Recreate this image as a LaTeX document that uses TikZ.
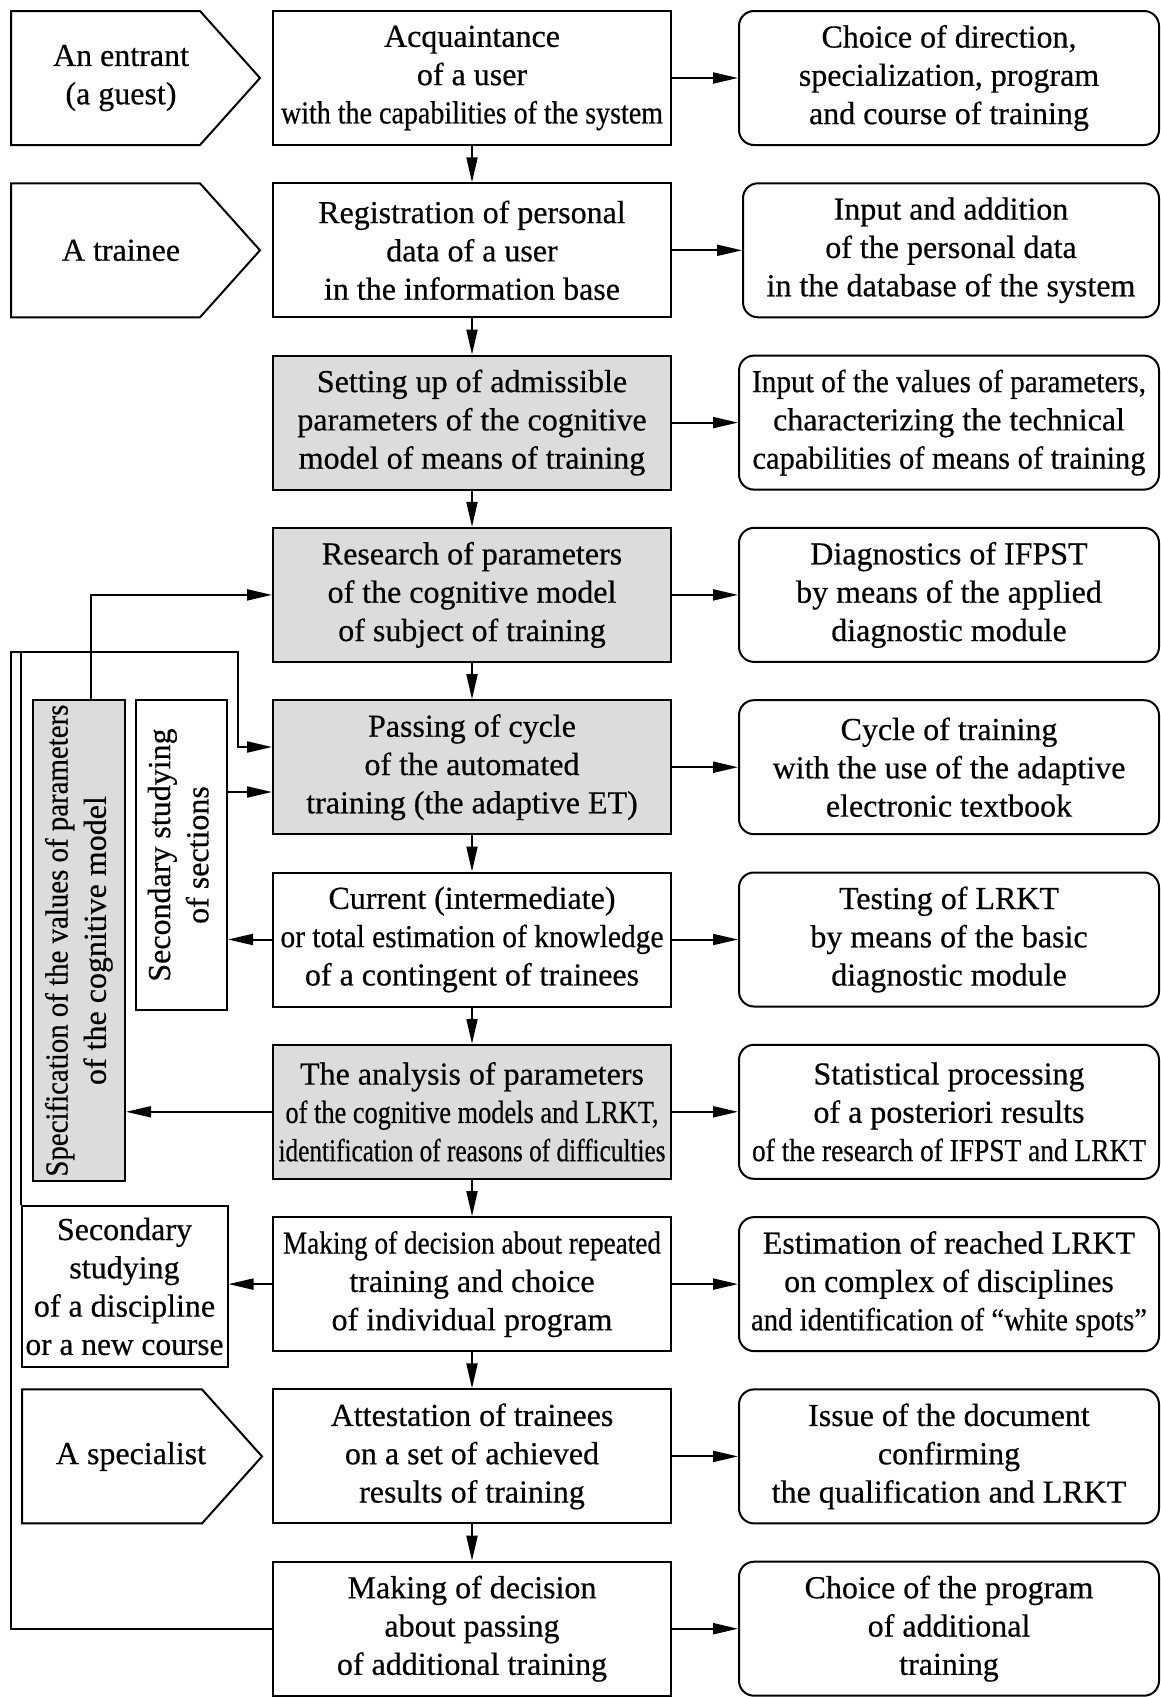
\documentclass[tikz,border=0pt]{standalone}
\usepackage{fontspec}
\usepackage{graphicx}
\setmainfont[FakeBold=0.5]{Liberation Serif}
\usetikzlibrary{arrows.meta}
\definecolor{boxgray}{RGB}{220,220,220}
\newcommand\sq[2]{\resizebox{#1pt}{\height}{#2}}
\tikzset{
  box/.style={draw, line width=2pt, minimum height=134pt, inner sep=0pt, align=center,
              font=\fontsize{32}{38.3}\selectfont},
  mainbox/.style={box, minimum width=398pt},
  graybox/.style={mainbox, fill=boxgray},
  rbox/.style={box, rounded corners=15pt, minimum width=420pt},
  sidebox/.style={box, minimum height=10pt},
  lbl/.style={inner sep=0pt, align=center, font=\fontsize{32}{38.3}\selectfont},
  arr/.style={line width=2pt, -{Triangle[length=25pt,width=11pt]}},
  ln/.style={line width=2pt},
  pent/.style={line width=2pt, line join=miter},
}
\begin{document}
\begin{tikzpicture}[x=1pt,y=-1pt]
\useasboundingbox (0,0) rectangle (1161,1697);

% main column
\node[mainbox]  (m0) at (472,78)     {Acquaintance\\of a user\\\sq{382}{with the capabilities of the system}};
\node[mainbox]  (m1) at (472,250.3)  {Registration of personal\\data of a user\\in the information base};
\node[graybox]  (m2) at (472,422.6)  {Setting up of admissible\\parameters of the cognitive\\model of means of training};
\node[graybox]  (m3) at (472,594.9)  {Research of parameters\\of the cognitive model\\of subject of training};
\node[graybox]  (m4) at (472,767.2)  {Passing of cycle\\of the automated\\training (the adaptive ET)};
\node[mainbox]  (m5) at (472,939.5)  {Current (intermediate)\\\sq{383}{or total estimation of knowledge}\\of a contingent of trainees};
\node[graybox]  (m6) at (472,1111.8) {The analysis of parameters\\\sq{373}{of the cognitive models and LRKT,}\\\sq{387}{identification of reasons of difficulties}};
\node[mainbox]  (m7) at (472,1284.1) {\sq{378}{Making of decision about repeated}\\training and choice\\of individual program};
\node[mainbox]  (m8) at (472,1456.4) {Attestation of trainees\\on a set of achieved\\results of training};
\node[mainbox]  (m9) at (472,1628.7) {Making of decision\\about passing\\of additional training};

% right column
\node[rbox] (r0) at (949,78)     {Choice of direction,\\specialization, program\\and course of training};
\node[rbox, minimum width=416pt] (r1) at (951,250.3) {Input and addition\\of the personal data\\in the database of the system};
\node[rbox] (r2) at (949,422.6)  {\sq{394}{Input of the values of parameters,}\\characterizing the technical\\\sq{393}{capabilities of means of training}};
\node[rbox] (r3) at (949,594.9)  {Diagnostics of IFPST\\by means of the applied\\diagnostic module};
\node[rbox] (r4) at (949,767.2)  {Cycle of training\\with the use of the adaptive\\electronic textbook};
\node[rbox] (r5) at (949,939.5)  {Testing of LRKT\\by means of the basic\\diagnostic module};
\node[rbox] (r6) at (949,1111.8) {Statistical processing\\of a posteriori results\\\sq{394}{of the research of IFPST and LRKT}};
\node[rbox] (r7) at (949,1284.1) {Estimation of reached LRKT\\on complex of disciplines\\\sq{396}{and identification of ``white spots''}};
\node[rbox] (r8) at (949,1456.4) {Issue of the document\\confirming\\the qualification and LRKT};
\node[rbox] (r9) at (949,1628.7) {Choice of the program\\of additional\\training};

% pentagons (actors)
\draw[pent] (11,11) -- (200,11) -- (260,78) -- (200,145) -- (11,145) -- cycle;
\node[lbl] (p0) at (121,78) {An entrant\\(a guest)};
\draw[pent] (11,183.3) -- (200,183.3) -- (260,250.3) -- (200,317.3) -- (11,317.3) -- cycle;
\node[lbl] (p1) at (121,250.3) {A trainee};
\draw[pent] (22,1389.4) -- (202,1389.4) -- (262,1456.4) -- (202,1523.4) -- (22,1523.4) -- cycle;
\node[lbl] (p8) at (131,1456.4) {A specialist};

% left side boxes
\node[sidebox, fill=boxgray, minimum width=92pt, minimum height=481pt] (spec) at (79,940.6) {};
\node[lbl] (spect) at (spec.center) {\rotatebox{90}{\begin{tabular}{@{}c@{}}\sq{472}{Specification of the values of parameters}\\of the cognitive model\end{tabular}}};
\node[sidebox, minimum width=91pt, minimum height=310pt] (ss) at (181.5,855) {};
\node[lbl] (sst) at (ss.center) {\rotatebox{90}{\begin{tabular}{@{}c@{}}Secondary studying\\of sections\end{tabular}}};
\node[sidebox, minimum width=206pt, minimum height=161pt] (disc) at (124.5,1286.5) {Secondary\\studying\\of a discipline\\\sq{198}{or a new course}};

% main flow
\foreach \a/\b in {m0/m1,m1/m2,m2/m3,m3/m4,m4/m5,m5/m6,m6/m7,m7/m8,m8/m9}
  \draw[arr] (\a) -- (\b);
\foreach \i in {0,...,9}
  \draw[arr] (m\i) -- (r\i);

% feedback loops
\coordinate (cTL) at (11,652);
\coordinate (cTR) at (238,652);
\coordinate (cIn) at (238,747);
\coordinate (cS)  at (91,700.2);
\coordinate (cP)  at (227,792);
\draw[arr] (m9.west) -- (m9.west -| cTL) -- (cTL) -- (cTR) -- (cIn) -- (cIn -| m4.west);
\draw[ln] (disc.north west) -- (disc.north west |- cTL);
\draw[arr] (cS) |- (m3.west);
\draw[arr] (cP) -- (cP -| m4.west);
\draw[arr] (m5.west) -- (m5.west -| ss.east);
\draw[arr] (m6.west) -- (m6.west -| spec.east);
\draw[arr] (m7.west) -- (m7.west -| disc.east);
\end{tikzpicture}
\end{document}
